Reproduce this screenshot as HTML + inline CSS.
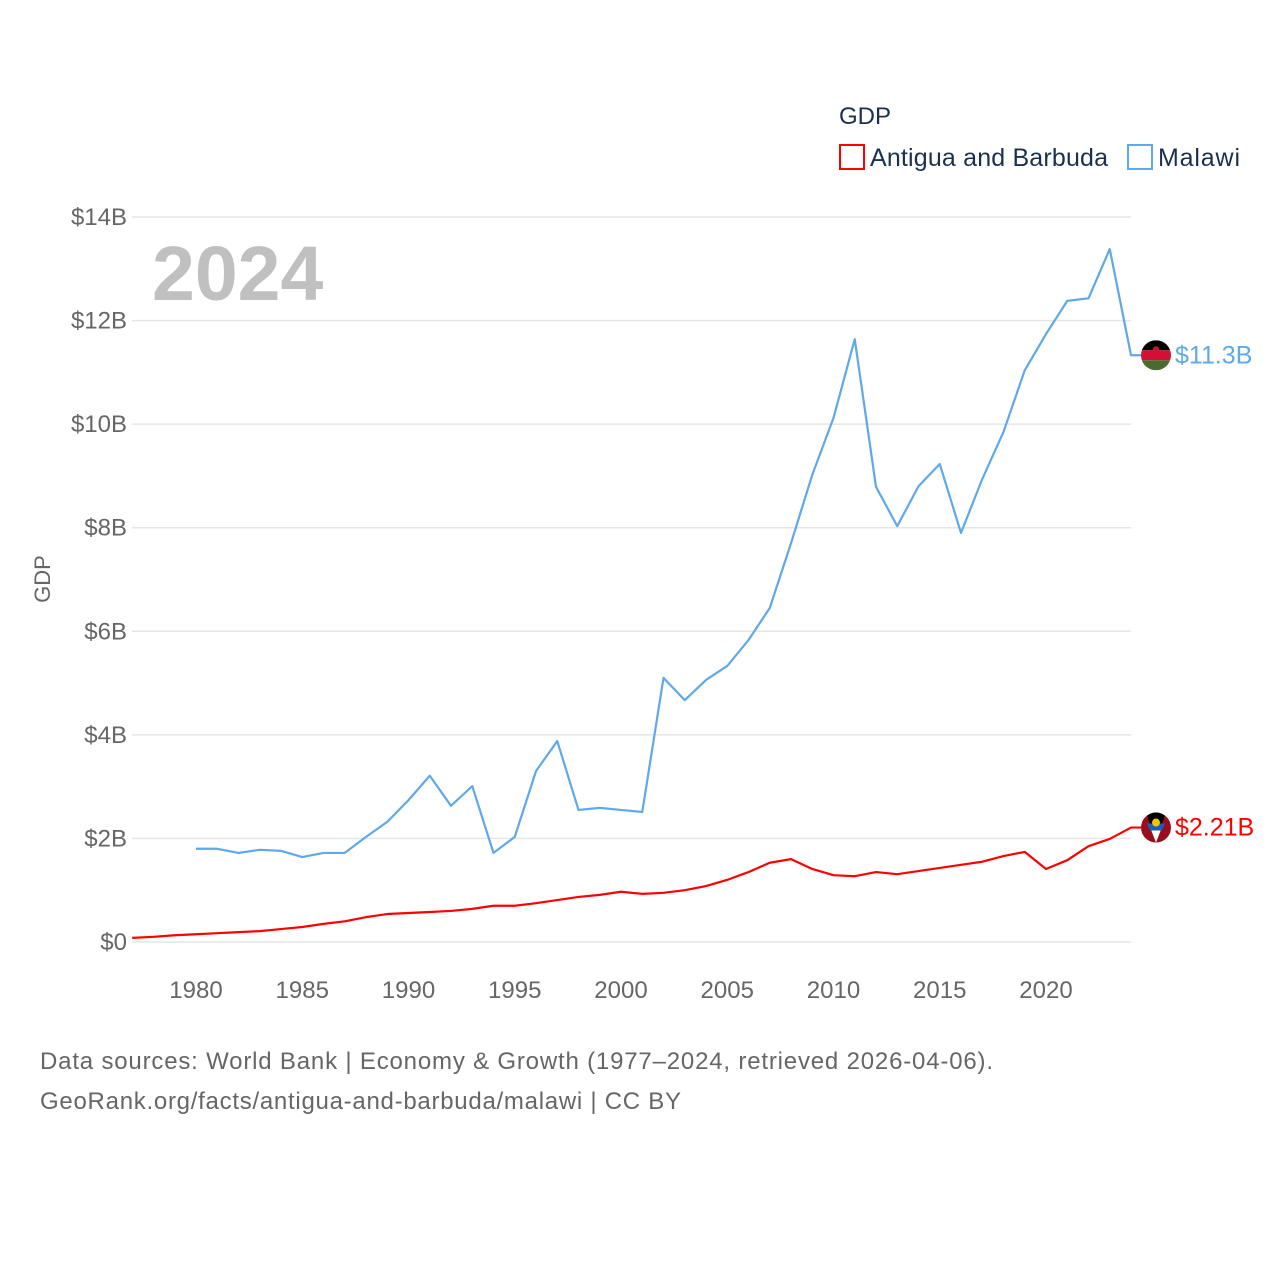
<!DOCTYPE html>
<html><head><meta charset="utf-8"><style>
html,body{margin:0;padding:0;background:#fff;}
svg{display:block;font-family:"Liberation Sans",sans-serif;}
</style></head><body>
<svg id="chart" width="1280" height="1280" viewBox="0 0 1280 1280">
<g id="grid"></g>
<g id="yticks"></g>
<g id="xticks"></g>
<text x="152" y="300" font-size="77" font-weight="bold" fill="#c0c0c0">2024</text>
<text x="50" y="579" font-size="22" fill="#666" transform="rotate(-90 50 579)" text-anchor="middle">GDP</text>
<text x="839" y="124" font-size="24" fill="#1b3050">GDP</text>
<g>
<rect x="840" y="145" width="24" height="24" fill="none" stroke="#ff0000" stroke-width="2"/>
<text x="870" y="166" font-size="25" fill="#1b3050" textLength="238">Antigua and Barbuda</text></g>
<g>
<rect x="1128" y="145" width="24" height="24" fill="none" stroke="#5fa8ea" stroke-width="2"/>
<text x="1158" y="166" font-size="25" fill="#1b3050" textLength="82">Malawi</text></g>
<g id="series"></g>
<text x="40" y="1069" font-size="24" fill="#666" textLength="953">Data sources: World Bank | Economy &amp; Growth (1977–2024, retrieved 2026-04-06).</text>
<text x="40" y="1109" font-size="24" fill="#666" textLength="641">GeoRank.org/facts/antigua-and-barbuda/malawi | CC BY</text>
</svg>
<script>
const yTickValues=[0,2,4,6,8,10,12,14];
const xTickYears=[1980,1985,1990,1995,2000,2005,2010,2015,2020];
const antiguaYears=[1977,1978,1979,1980,1981,1982,1983,1984,1985,1986,1987,1988,1989,1990,1991,1992,1993,1994,1995,1996,1997,1998,1999,2000,2001,2002,2003,2004,2005,2006,2007,2008,2009,2010,2011,2012,2013,2014,2015,2016,2017,2018,2019,2020,2021,2022,2023,2024];
const antiguaGDP=[0.08,0.10,0.13,0.15,0.17,0.19,0.21,0.25,0.29,0.35,0.40,0.48,0.54,0.56,0.58,0.60,0.64,0.70,0.70,0.75,0.81,0.87,0.91,0.97,0.93,0.95,1.00,1.08,1.20,1.35,1.53,1.60,1.41,1.29,1.27,1.35,1.31,1.37,1.43,1.49,1.55,1.66,1.74,1.41,1.58,1.85,1.99,2.21];
const malawiYears=[1980,1981,1982,1983,1984,1985,1986,1987,1988,1989,1990,1991,1992,1993,1994,1995,1996,1997,1998,1999,2000,2001,2002,2003,2004,2005,2006,2007,2008,2009,2010,2011,2012,2013,2014,2015,2016,2017,2018,2019,2020,2021,2022,2023,2024];
const malawiGDP=[1.80,1.80,1.72,1.78,1.76,1.64,1.72,1.72,2.03,2.32,2.74,3.21,2.63,3.01,1.72,2.03,3.30,3.88,2.55,2.59,2.55,2.51,5.10,4.67,5.06,5.33,5.83,6.45,7.70,9.02,10.12,11.64,8.79,8.03,8.80,9.23,7.90,8.94,9.85,11.04,11.74,12.38,12.43,13.38,11.33];
const NS='http://www.w3.org/2000/svg';
function x(yr){return 196+(yr-1980)*21.25;}
function y(v){return 942-v*51.786;}
function mk(tag,attrs,parent){const e=document.createElementNS(NS,tag);for(const k in attrs)e.setAttribute(k,attrs[k]);parent.appendChild(e);return e;}
const grid=document.getElementById('grid'),yt=document.getElementById('yticks'),xt=document.getElementById('xticks'),ser=document.getElementById('series');
yTickValues.forEach(v=>{
  const l=mk('line',{x1:132,x2:1131,y1:y(v),y2:y(v),stroke:'#e6e6e6','stroke-width':1.5},grid);
  
  
  const t=mk('text',{x:127,y:y(v)+8,'text-anchor':'end','font-size':24,fill:'#666'},yt);
  t.textContent='$'+v+(v?'B':'');
  
  
});
xTickYears.forEach(yr=>{
  const t=mk('text',{x:x(yr),y:998,'text-anchor':'middle','font-size':24,fill:'#666'},xt);
  t.textContent=yr;
  
  
});
function series(yrs,vals,color,name,label){
  const pts=yrs.map((yr,i)=>x(yr)+','+y(vals[i]));
  const last=vals[vals.length-1],lx=x(yrs[yrs.length-1]),ly=y(last);
  pts.push((lx+10)+','+ly);
  const p=mk('polyline',{points:pts.join(' '),fill:'none',stroke:color,'stroke-width':2.2,'stroke-linejoin':'round'},ser);
  
  
  const t=mk('text',{x:1175,y:ly+8,'font-size':25,fill:color},ser);
  t.textContent=label;
  
  
  return ly;
}
const my=series(malawiYears,malawiGDP,'#5fa8ea','malawi','$11.3B');
const ay=series(antiguaYears,antiguaGDP,'#ff0000','antigua','$2.21B');
const defs=mk('defs',{},ser);
const c1=mk('clipPath',{id:'cm'},defs);mk('circle',{cx:1156,cy:my,r:15},c1);
const c2=mk('clipPath',{id:'ca'},defs);mk('circle',{cx:1156,cy:ay,r:15},c2);
const fm=mk('g',{'clip-path':'url(#cm)'},ser);


mk('rect',{x:1141,y:my-15,width:30,height:10,fill:'#000'},fm);
mk('rect',{x:1141,y:my-5,width:30,height:10,fill:'#d21034'},fm);
mk('rect',{x:1141,y:my+5,width:30,height:10,fill:'#4a6b2f'},fm);
mk('circle',{cx:1156,cy:my-6,r:3,fill:'#d21034'},fm);
const fa=mk('g',{'clip-path':'url(#ca)'},ser);


mk('rect',{x:1141,y:ay-15,width:30,height:30,fill:'#9b0d1e'},fa);
mk('polygon',{points:(1146)+','+(ay-15)+' '+(1166)+','+(ay-15)+' '+1156+','+(ay+15),fill:'#000'},fa);
mk('polygon',{points:(1149)+','+(ay-3)+' '+(1163)+','+(ay-3)+' '+1156+','+(ay+15),fill:'#fff'},fa);
mk('polygon',{points:(1147)+','+(ay-4)+' '+(1165)+','+(ay-4)+' '+(1162)+','+(ay+3)+' '+(1150)+','+(ay+3),fill:'#1a5fb4'},fa);
mk('circle',{cx:1156,cy:ay-5,r:4,fill:'#f5c400'},fa);
</script>
</body></html>
